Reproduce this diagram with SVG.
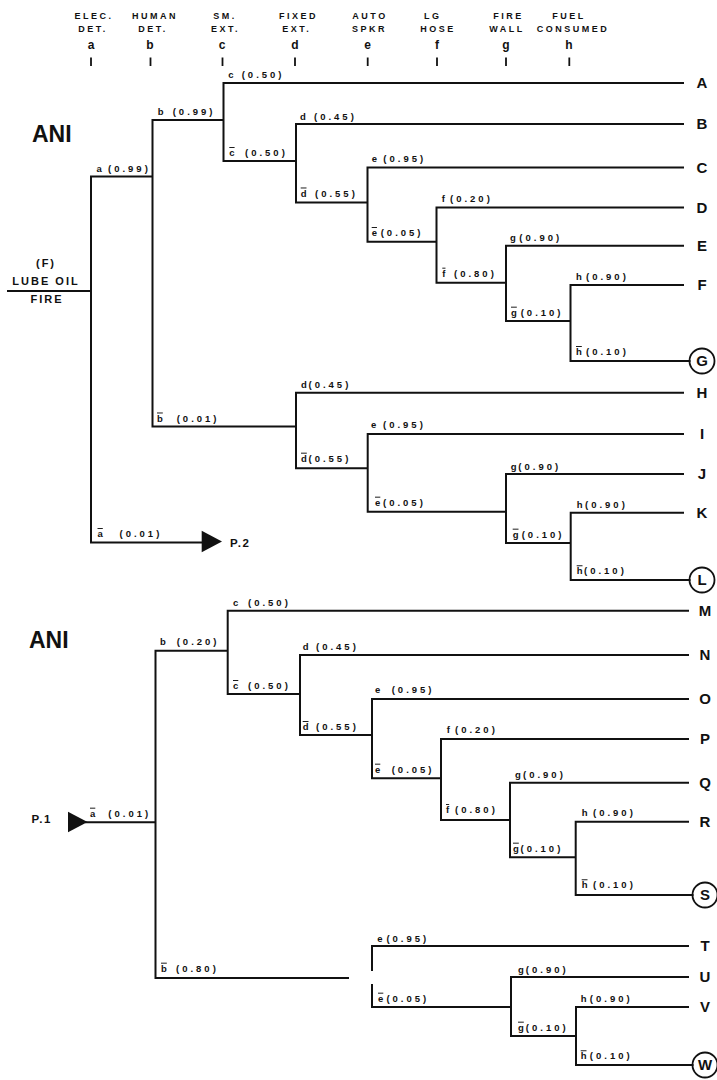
<svg xmlns="http://www.w3.org/2000/svg" width="717" height="1080" viewBox="0 0 717 1080">
<style>
.ln{stroke:#111;stroke-width:2;fill:none;stroke-linecap:square;stroke-linejoin:miter}
.tk{stroke:#111;stroke-width:1.8}
.lb{font-family:"Liberation Sans",Arial,sans-serif;font-weight:bold;font-size:9.5px;letter-spacing:3px;fill:#111}
.ov{text-decoration:overline;letter-spacing:0}
.hd{font-family:"Liberation Sans",Arial,sans-serif;font-weight:bold;font-size:9px;letter-spacing:2.5px;text-anchor:middle;fill:#111}
.hl{font-family:"Liberation Sans",Arial,sans-serif;font-weight:bold;font-size:12px;text-anchor:middle;fill:#111}
.out{font-family:"Liberation Sans",Arial,sans-serif;font-weight:bold;font-size:15px;text-anchor:middle;fill:#111}
.ani{font-family:"Liberation Sans",Arial,sans-serif;font-weight:bold;font-size:23px;fill:#111}
.rt{font-family:"Liberation Sans",Arial,sans-serif;font-weight:bold;font-size:11px;letter-spacing:2px;text-anchor:middle;fill:#111}
.pg{font-family:"Liberation Sans",Arial,sans-serif;font-weight:bold;font-size:11.5px;letter-spacing:1.5px;fill:#111}
.cir{fill:none;stroke:#111;stroke-width:1.8}
.arr{fill:#111}
</style>
<rect width="717" height="1080" fill="#fff"/>

<g id="header">
  <g id="col-a"><text class="hd" x="94" y="19.3">ELEC.</text><text class="hd" x="93" y="32.3">DET.</text><text class="hl" x="91" y="49">a</text><line class="tk" x1="91" y1="57.5" x2="91" y2="66"/></g>
  <g id="col-b"><text class="hd" x="155" y="19.3">HUMAN</text><text class="hd" x="153" y="32.3">DET.</text><text class="hl" x="150" y="49">b</text><line class="tk" x1="150.5" y1="57.5" x2="150.5" y2="66"/></g>
  <g id="col-c"><text class="hd" x="225" y="19.3">SM.</text><text class="hd" x="225.5" y="32.3">EXT.</text><text class="hl" x="222" y="49">c</text><line class="tk" x1="222.5" y1="57.5" x2="222.5" y2="66"/></g>
  <g id="col-d"><text class="hd" x="298.5" y="19.3">FIXED</text><text class="hd" x="296.7" y="32.3">EXT.</text><text class="hl" x="295" y="49">d</text><line class="tk" x1="295" y1="57.5" x2="295" y2="66"/></g>
  <g id="col-e"><text class="hd" x="370" y="19.3">AUTO</text><text class="hd" x="369.5" y="32.3">SPKR</text><text class="hl" x="367.7" y="49">e</text><line class="tk" x1="367.7" y1="57.5" x2="367.7" y2="66"/></g>
  <g id="col-f"><text class="hd" x="432.7" y="19.3">LG</text><text class="hd" x="438" y="32.3">HOSE</text><text class="hl" x="437" y="49">f</text><line class="tk" x1="437" y1="57.5" x2="437" y2="66"/></g>
  <g id="col-g"><text class="hd" x="508.5" y="19.3">FIRE</text><text class="hd" x="507" y="32.3">WALL</text><text class="hl" x="506" y="49">g</text><line class="tk" x1="506" y1="57.5" x2="506" y2="66"/></g>
  <g id="col-h"><text class="hd" x="569" y="19.3">FUEL</text><text class="hd" x="573" y="32.3">CONSUMED</text><text class="hl" x="569" y="49">h</text><line class="tk" x1="569.3" y1="57.5" x2="569.3" y2="66"/></g>
</g>

<g id="titles">
  <text class="ani" x="32" y="141.7">ANI</text>
  <text class="ani" x="29" y="647.7">ANI</text>
</g>

<g id="connectors">
  <path class="ln" d="M8 291 H91 M152.5 176.5 H91 V542.5 H203 M223.5 120 H152.5 V426.5 H296 M683 83 H223.5 V161 H296 M683 124 H296 V202.5 H367.5 M683 167.5 H367.5 V241.7 H436.5 M683 207.5 H436.5 V282.7 H506 M683 245.7 H506 V321 H570.5 M683 285 H570.5 V361 H689.5"/>
  <path class="ln" d="M683 392.7 H296 V468.3 H367.7 M683 434 H367.7 V511.7 H506 M683 474 H506 V543 H570.7 M683 512.7 H570.7 V580 H689.5"/>
  <path class="ln" d="M86 822.3 H155.5 M227.7 650.7 H155.5 V978 H348 M688 610.7 H227.7 V694 H300 M688 655 H300 V735 H372 M688 699 H372 V778.3 H441 M688 739 H441 V820 H510 M688 782.7 H510 V857.3 H575.7 M688 821.7 H575.7 V895 H692.5"/>
  <path class="ln" d="M688 946 H372 V970 M372 985 V1007 H511 M688 977 H511 V1036 H576 M688 1007 H576 V1065 H692.5"/>
  <polygon class="arr" points="201.7,530.7 222,541.5 201.7,552.3"/>
  <polygon class="arr" points="68,811.7 87.5,822 68,832.3"/>
</g>

<g id="root"><text class="rt" x="46" y="266.7">(F)</text><text class="rt" x="46" y="285">LUBE OIL</text><text class="rt" x="47" y="303">FIRE</text></g>
<g id="node-P2"><text class="pg" x="230" y="546.7">P.2</text></g>
<g id="node-P1"><text class="pg" x="31.5" y="822.7">P.1</text></g>

<g id="labels-top">
  <g id="l-a"><text class="lb" x="96.5" y="171.5">a</text><text class="lb" x="108" y="171.5">(0.99)</text></g>
  <g id="l-na"><text class="lb ov" x="97.5" y="537">a</text><text class="lb" x="119.5" y="537">(0.01)</text></g>
  <g id="l-b"><text class="lb" x="157.7" y="115">b</text><text class="lb" x="172.7" y="115">(0.99)</text></g>
  <g id="l-nb"><text class="lb ov" x="157" y="421.5">b</text><text class="lb" x="176.7" y="421.5">(0.01)</text></g>
  <g id="l-c"><text class="lb" x="228.3" y="78">c</text><text class="lb" x="241.7" y="78">(0.50)</text></g>
  <g id="l-nc"><text class="lb ov" x="229.3" y="156">c</text><text class="lb" x="245" y="156">(0.50)</text></g>
  <g id="l-d"><text class="lb" x="300" y="119.5">d</text><text class="lb" x="314" y="119.5">(0.45)</text></g>
  <g id="l-nd"><text class="lb ov" x="300.7" y="196.5">d</text><text class="lb" x="315" y="196.5">(0.55)</text></g>
  <g id="l-e"><text class="lb" x="371.7" y="162.3">e</text><text class="lb" x="383.3" y="162.3">(0.95)</text></g>
  <g id="l-ne"><text class="lb ov" x="371.7" y="236">e</text><text class="lb" x="380.7" y="236">(0.05)</text></g>
  <g id="l-f"><text class="lb" x="441.7" y="201.7">f</text><text class="lb" x="450" y="201.7">(0.20)</text></g>
  <g id="l-nf"><text class="lb ov" x="442.3" y="276.7">f</text><text class="lb" x="454" y="276.7">(0.80)</text></g>
  <g id="l-g"><text class="lb" x="510" y="240.7">g</text><text class="lb" x="519.3" y="240.7">(0.90)</text></g>
  <g id="l-ng"><text class="lb ov" x="511" y="315.7">g</text><text class="lb" x="520.7" y="315.7">(0.10)</text></g>
  <g id="l-h"><text class="lb" x="576" y="280">h</text><text class="lb" x="586" y="280">(0.90)</text></g>
  <g id="l-nh"><text class="lb ov" x="576" y="355">h</text><text class="lb" x="586" y="355">(0.10)</text></g>
  <g id="l-d2"><text class="lb" x="301" y="387.7">d</text><text class="lb" x="308.5" y="387.7">(0.45)</text></g>
  <g id="l-nd2"><text class="lb ov" x="301" y="461.7">d</text><text class="lb" x="308.5" y="461.7">(0.55)</text></g>
  <g id="l-e2"><text class="lb" x="371" y="428.3">e</text><text class="lb" x="383" y="428.3">(0.95)</text></g>
  <g id="l-ne2"><text class="lb ov" x="375" y="505.7">e</text><text class="lb" x="383" y="505.7">(0.05)</text></g>
  <g id="l-g2"><text class="lb" x="510.7" y="470">g</text><text class="lb" x="518.3" y="470">(0.90)</text></g>
  <g id="l-ng2"><text class="lb ov" x="512.7" y="537.7">g</text><text class="lb" x="521.7" y="537.7">(0.10)</text></g>
  <g id="l-h2"><text class="lb" x="576.7" y="508.3">h</text><text class="lb" x="585" y="508.3">(0.90)</text></g>
  <g id="l-nh2"><text class="lb ov" x="576.7" y="574.3">h</text><text class="lb" x="584" y="574.3">(0.10)</text></g>
</g>

<g id="labels-bottom">
  <g id="m-na"><text class="lb ov" x="90" y="816.7">a</text><text class="lb" x="108.3" y="816.7">(0.01)</text></g>
  <g id="m-b"><text class="lb" x="160" y="645">b</text><text class="lb" x="176.7" y="645">(0.20)</text></g>
  <g id="m-nb"><text class="lb ov" x="161" y="971.7">b</text><text class="lb" x="176" y="971.7">(0.80)</text></g>
  <g id="m-c"><text class="lb" x="233" y="606">c</text><text class="lb" x="248" y="606">(0.50)</text></g>
  <g id="m-nc"><text class="lb ov" x="233" y="689">c</text><text class="lb" x="248" y="689">(0.50)</text></g>
  <g id="m-d"><text class="lb" x="302.7" y="650">d</text><text class="lb" x="316" y="650">(0.45)</text></g>
  <g id="m-nd"><text class="lb ov" x="302.7" y="730">d</text><text class="lb" x="316" y="730">(0.55)</text></g>
  <g id="m-e"><text class="lb" x="375" y="693">e</text><text class="lb" x="391.7" y="693">(0.95)</text></g>
  <g id="m-ne"><text class="lb ov" x="375" y="772.7">e</text><text class="lb" x="391.7" y="772.7">(0.05)</text></g>
  <g id="m-f"><text class="lb" x="446.7" y="732.7">f</text><text class="lb" x="455" y="732.7">(0.20)</text></g>
  <g id="m-nf"><text class="lb ov" x="446" y="813">f</text><text class="lb" x="455" y="813">(0.80)</text></g>
  <g id="m-g"><text class="lb" x="515" y="778.3">g</text><text class="lb" x="523" y="778.3">(0.90)</text></g>
  <g id="m-ng"><text class="lb ov" x="513" y="851.7">g</text><text class="lb" x="520.5" y="851.7">(0.10)</text></g>
  <g id="m-h"><text class="lb" x="581.7" y="816">h</text><text class="lb" x="593" y="816">(0.90)</text></g>
  <g id="m-nh"><text class="lb ov" x="581.7" y="888.3">h</text><text class="lb" x="593" y="888.3">(0.10)</text></g>
  <g id="m-e2"><text class="lb" x="377.2" y="941.7">e</text><text class="lb" x="386.4" y="941.7">(0.95)</text></g>
  <g id="m-ne2"><text class="lb ov" x="378" y="1001.7">e</text><text class="lb" x="386.4" y="1001.7">(0.05)</text></g>
  <g id="m-g2"><text class="lb" x="518" y="972.7">g</text><text class="lb" x="525.8" y="972.7">(0.90)</text></g>
  <g id="m-ng2"><text class="lb ov" x="518" y="1030.7">g</text><text class="lb" x="525.8" y="1030.7">(0.10)</text></g>
  <g id="m-h2"><text class="lb" x="580.7" y="1001.7">h</text><text class="lb" x="589.8" y="1001.7">(0.90)</text></g>
  <g id="m-nh2"><text class="lb ov" x="580.7" y="1059.3">h</text><text class="lb" x="589.8" y="1059.3">(0.10)</text></g>
</g>

<g id="outcomes">
  <g id="node-A"><text class="out" x="702" y="88.4">A</text></g>
  <g id="node-B"><text class="out" x="702" y="129.4">B</text></g>
  <g id="node-C"><text class="out" x="702" y="172.9">C</text></g>
  <g id="node-D"><text class="out" x="702" y="212.9">D</text></g>
  <g id="node-E"><text class="out" x="702" y="251.1">E</text></g>
  <g id="node-F"><text class="out" x="702" y="290.4">F</text></g>
  <g id="node-G"><circle class="cir" cx="702" cy="361" r="12.5"/><text class="out" x="702" y="366.4">G</text></g>
  <g id="node-H"><text class="out" x="702" y="398.1">H</text></g>
  <g id="node-I"><text class="out" x="702" y="439.4">I</text></g>
  <g id="node-J"><text class="out" x="702" y="479.4">J</text></g>
  <g id="node-K"><text class="out" x="702" y="518.1">K</text></g>
  <g id="node-L"><circle class="cir" cx="702" cy="580" r="12.5"/><text class="out" x="702" y="585.4">L</text></g>
  <g id="node-M"><text class="out" x="705" y="616.1">M</text></g>
  <g id="node-N"><text class="out" x="705" y="660.4">N</text></g>
  <g id="node-O"><text class="out" x="705" y="704.4">O</text></g>
  <g id="node-P"><text class="out" x="705" y="744.4">P</text></g>
  <g id="node-Q"><text class="out" x="705" y="788.1">Q</text></g>
  <g id="node-R"><text class="out" x="705" y="827.1">R</text></g>
  <g id="node-S"><circle class="cir" cx="705" cy="895" r="12.5"/><text class="out" x="705" y="900.4">S</text></g>
  <g id="node-T"><text class="out" x="705" y="951.4">T</text></g>
  <g id="node-U"><text class="out" x="705" y="982.4">U</text></g>
  <g id="node-V"><text class="out" x="705" y="1012.4">V</text></g>
  <g id="node-W"><circle class="cir" cx="705" cy="1065" r="12.5"/><text class="out" x="705" y="1070.4">W</text></g>
</g>
</svg>
